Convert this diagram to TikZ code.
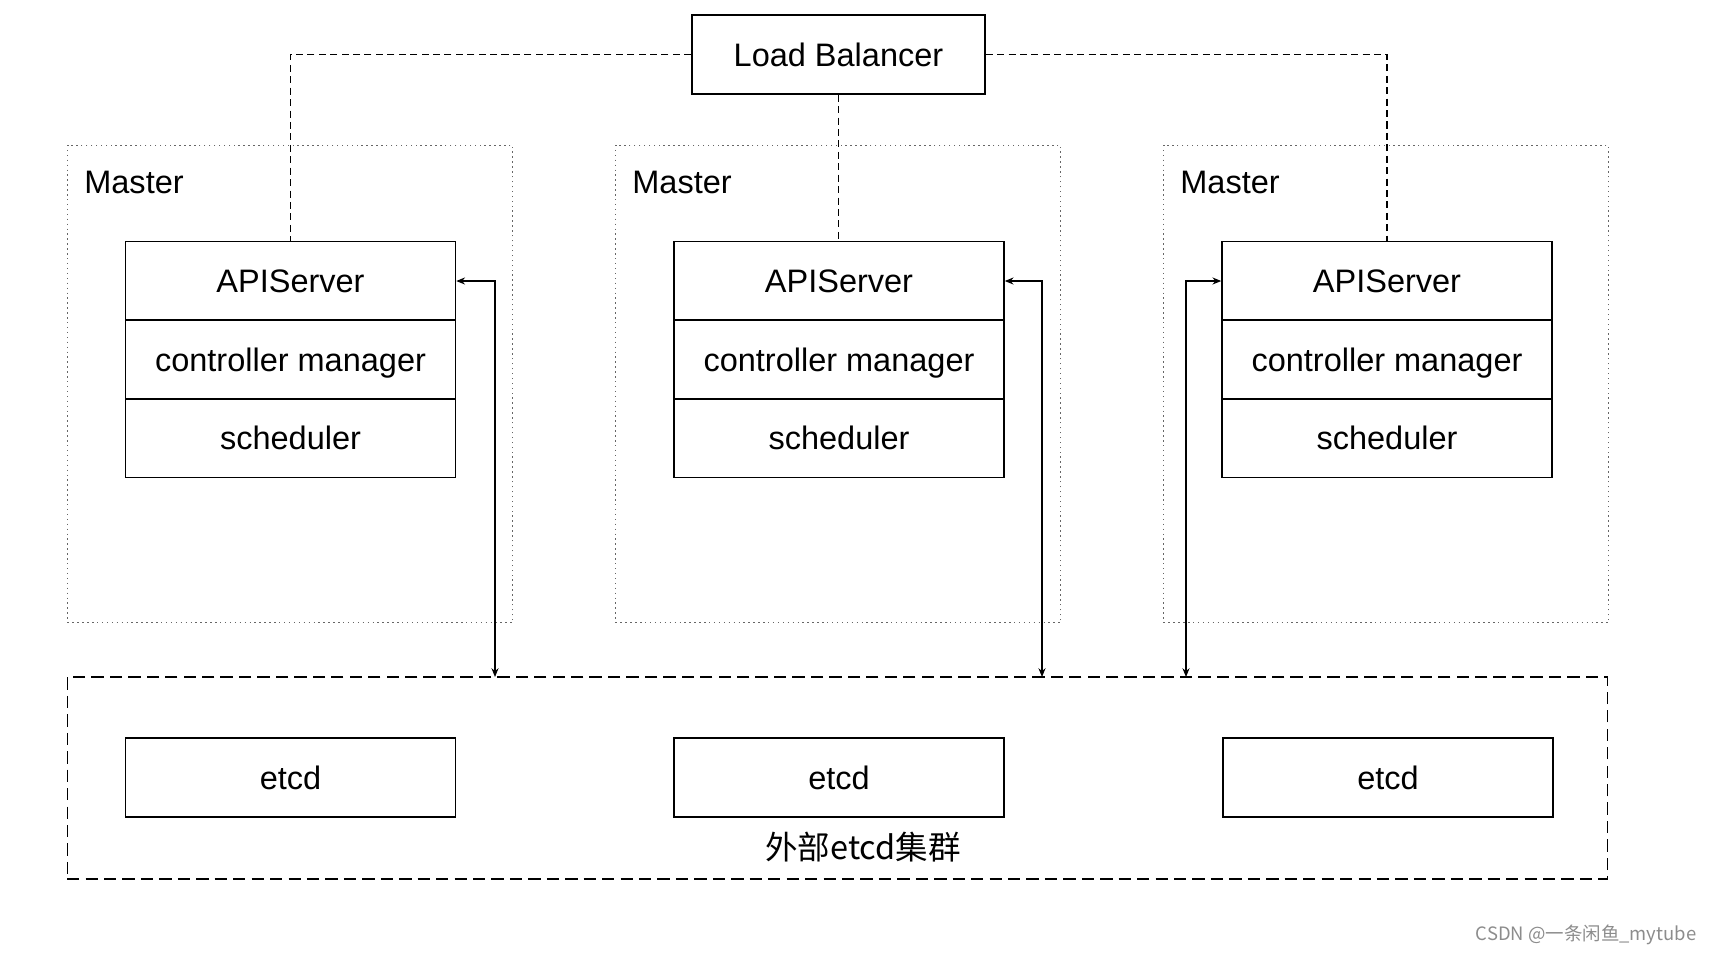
\documentclass[tikz,border=0pt]{standalone}
\usepackage{fontspec}
\setmainfont{Liberation Sans}
\newfontfamily\cjk{Noto Sans CJK SC}
\usetikzlibrary{arrows.meta}

\begin{document}
\begin{tikzpicture}[x=0.02cm, y=-0.02cm,
	box/.style={draw, line width=0.9pt, inner sep=0pt, minimum width=6.6cm, minimum height=1.58cm, text height=13.5pt, text depth=0.3pt, font=\fontsize{18.5}{20}\selectfont},
	masterbox/.style={draw=black!60, line width=0.6pt, dash pattern=on 0.8pt off 2pt, minimum width=8.9cm, minimum height=9.56cm},
	lbline/.style={line width=0.7pt, dash pattern=on 4pt off 2.5pt},
	etcdline/.style={<->, >={Stealth[length=5pt, width=4pt]}, line width=0.6pt}]
	\useasboundingbox (0,0) rectangle (1712,954);

	% Load balancer
	\node[box, minimum width=5.86cm] (lb) at (838.5,54.5) {Load Balancer};

	% Master boxes
	\node[masterbox] (m1) at (290,384) {};
	\node[masterbox] (m2) at (838,384) {};
	\node[masterbox] (m3) at (1386,384) {};
	\node[anchor=west, inner sep=0pt, font=\fontsize{18.5}{20}\selectfont] (t1) at (84,182) {Master};
	\node[anchor=west, inner sep=0pt, font=\fontsize{18.5}{20}\selectfont] (t2) at (632,182) {Master};
	\node[anchor=west, inner sep=0pt, font=\fontsize{18.5}{20}\selectfont] (t3) at (1180,182) {Master};

	% Components
	\node[box] (api1) at (290.5,281) {APIServer};
	\node[box] (cm1) at (290.5,359.5) {controller manager};
	\node[box] (sch1) at (290.5,438) {scheduler};
	\node[box] (api2) at (839,281) {APIServer};
	\node[box] (cm2) at (839,359.5) {controller manager};
	\node[box] (sch2) at (839,438) {scheduler};
	\node[box] (api3) at (1387,281) {APIServer};
	\node[box] (cm3) at (1387,359.5) {controller manager};
	\node[box] (sch3) at (1387,438) {scheduler};

	% External etcd cluster
	\node[draw, line width=0.7pt, dash pattern=on 7pt off 3.5pt, minimum width=30.82cm, minimum height=4.04cm] (cluster) at (837.5,778) {};
	\node[box] (etcd1) at (290.5,777.5) {etcd};
	\node[box] (etcd2) at (839,777.5) {etcd};
	\node[box] (etcd3) at (1388,777.5) {etcd};
	\node[font=\cjk\fontsize{18.5}{20}\selectfont] (clabel) at (863,847) {外部etcd集群};

	% Load balancer links
	\draw[lbline] (lb.west) -| (api1.north);
	\draw[lbline] (lb.south) -- (lb.south |- api2.north);
	\draw[lbline] (lb.east) -| (api3.north);

	% APIServer to etcd
	\coordinate (e1) at (495,677);
	\coordinate (e2) at (1042,677);
	\coordinate (e3) at (1186,677);
	\draw[etcdline] (api1.east) -| (e1);
	\draw[etcdline] (api2.east) -| (e2);
	\draw[etcdline] (api3.west) -| (e3);

	% Watermark
	\node[text=black!45, font=\cjk\fontsize{10.5}{12}\selectfont] (wm) at (1586,935) {CSDN @一条闲鱼\_mytube};
\end{tikzpicture}
\end{document}
